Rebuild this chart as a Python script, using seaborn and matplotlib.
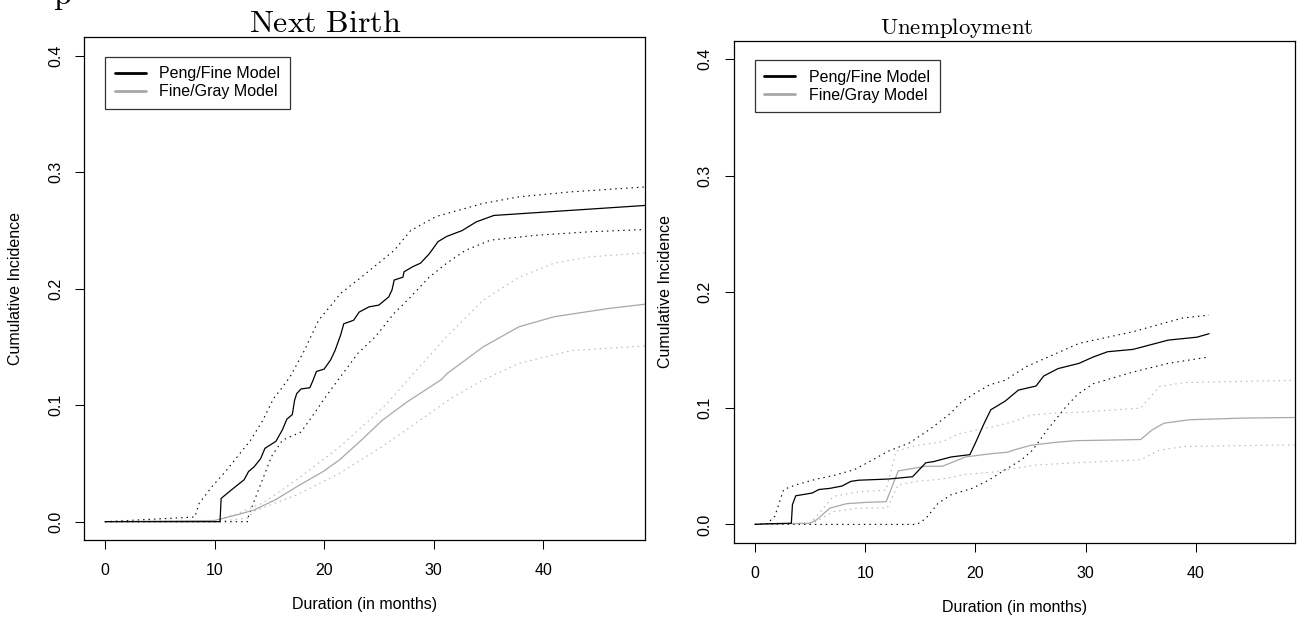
import matplotlib
matplotlib.use("Agg")
import matplotlib.pyplot as plt
import seaborn as sns

# Next Birth: Peng/Fine estimate with pointwise bands
nb_x_pf = [0, 10.5, 10.6, 11.5, 12.7, 13.1, 13.6, 14.2, 14.6, 15.6, 16.2, 16.6, 17.1, 17.3, 17.5, 17.9, 18.7,
           19.0, 19.3, 20.0, 20.6, 21.0, 21.5, 21.8, 22.7, 23.2, 24.1, 25.0, 25.9, 26.2, 26.4, 27.2, 27.3, 28.1,
           28.8, 29.6, 30.4, 31.2, 32.6, 33.9, 35.5, 49.5]
nb_y_pf = [0, 0, 0.020, 0.027, 0.036, 0.043, 0.047, 0.054, 0.063, 0.069, 0.079, 0.088, 0.092, 0.104, 0.110, 0.114,
           0.115, 0.1216, 0.129, 0.131, 0.139, 0.147, 0.160, 0.170, 0.173, 0.180, 0.1845, 0.186, 0.193, 0.199,
           0.2075, 0.210, 0.2146, 0.219, 0.222, 0.230, 0.2405, 0.245, 0.250, 0.2575, 0.263, 0.2717]
nb_x_pf_hi = [0, 8.2, 8.6, 9.2, 9.75, 10.9, 12.1, 13.3, 14.4, 15.4, 16.0, 16.9, 18.2, 19.5, 20.8, 21.5, 23.4,
              26.4, 27.9, 30.2, 34.5, 37.8, 42.6, 49.5]
nb_y_pf_hi = [0, 0.004, 0.016, 0.023, 0.030, 0.042, 0.056, 0.070, 0.087, 0.106, 0.113, 0.1245, 0.147, 0.173,
              0.1877, 0.196, 0.210, 0.233, 0.250, 0.262, 0.2733, 0.279, 0.2833, 0.2876]
nb_x_pf_lo = [0, 13.0, 13.1, 14.0, 14.6, 15.2, 16.2, 17.9, 19.1, 20.2, 21.5, 23.1, 24.7, 26.4, 27.9, 29.6, 31.2,
              32.9, 35.2, 39.4, 44.3, 49.5]
nb_y_pf_lo = [0, 0, 0.005, 0.027, 0.0415, 0.056, 0.070, 0.077, 0.093, 0.108, 0.1245, 0.1447, 0.159, 0.179,
              0.193, 0.210, 0.222, 0.233, 0.2418, 0.246, 0.249, 0.251]

# Next Birth: Fine/Gray estimate with bands
nb_x_fg = [0, 10.0, 12.1, 13.6, 15.6, 17.5, 19.9, 21.4, 23.4, 25.3, 27.6, 30.7, 31.2, 34.5, 37.8, 41.0, 45.9, 49.5]
nb_y_fg = [0, 0.001, 0.006, 0.010, 0.019, 0.030, 0.043, 0.053, 0.070, 0.087, 0.103, 0.122, 0.127, 0.150,
           0.1674, 0.176, 0.183, 0.187]
nb_x_fg_hi = [0, 10.1, 12.1, 14.4, 17.5, 21.4, 24.1, 25.7, 27.9, 31.2, 34.5, 37.8, 41.0, 44.3, 49.5]
nb_y_fg_hi = [0, 0.001, 0.007, 0.016, 0.036, 0.064, 0.087, 0.101, 0.1245, 0.159, 0.190, 0.210, 0.222, 0.2275,
              0.231]
nb_x_fg_lo = [0, 10.0, 13.0, 13.6, 17.5, 21.4, 25.3, 29.2, 31.6, 34.5, 37.8, 42.6, 49.5]
nb_y_fg_lo = [0, 0, 0.003, 0.009, 0.023, 0.0415, 0.0645, 0.090, 0.106, 0.1216, 0.136, 0.147, 0.151]

# Unemployment: Peng/Fine
un_x_pf = [0, 1.0, 3.3, 3.4, 3.7, 5.2, 5.8, 6.8, 7.9, 8.7, 9.4, 12.1, 14.3, 14.9, 15.5, 16.2, 17.8, 19.5, 20.0,
           20.8, 21.4, 22.7, 23.9, 25.5, 26.2, 27.5, 29.4, 30.7, 32.0, 34.3, 37.5, 40.1, 41.2]
un_y_pf = [0, 0.0005, 0.001, 0.017, 0.0246, 0.027, 0.030, 0.031, 0.033, 0.037, 0.038, 0.039, 0.041, 0.047,
           0.053, 0.054, 0.058, 0.060, 0.070, 0.087, 0.0986, 0.106, 0.1155, 0.119, 0.1276, 0.134, 0.1385, 0.144,
           0.1485, 0.1505, 0.1585, 0.161, 0.164]
un_x_pf_hi = [0, 1.1, 1.8, 2.6, 3.7, 5.6, 7.1, 9.0, 10.2, 12.1, 14.0, 15.9, 17.8, 18.7, 20.0, 21.3, 22.7, 24.6,
              29.4, 34.3, 38.8, 41.2]
un_y_pf_hi = [0, 0.0006, 0.007, 0.030, 0.034, 0.039, 0.042, 0.047, 0.053, 0.063, 0.070, 0.082, 0.096, 0.105,
              0.113, 0.120, 0.124, 0.1356, 0.1557, 0.1657, 0.1775, 0.180]
un_x_pf_lo = [0, 14.7, 15.5, 16.6, 17.8, 19.7, 21.2, 22.7, 24.2, 25.2, 26.5, 28.2, 29.3, 30.7, 34.3, 37.5, 41.2]
un_y_pf_lo = [0, 0, 0.005, 0.018, 0.0255, 0.031, 0.038, 0.047, 0.0556, 0.064, 0.081, 0.101, 0.112, 0.121, 0.131,
              0.1385, 0.144]

# Unemployment: Fine/Gray
un_x_fg = [0, 5.0, 5.6, 6.8, 8.3, 10.2, 11.9, 13.0, 15.5, 17.0, 17.8, 19.1, 21.6, 22.9, 23.5, 25.0, 27.2, 29.1,
           35.0, 36.0, 37.1, 39.4, 44.3, 49.5]
un_y_fg = [0, 0.001, 0.004, 0.014, 0.0178, 0.019, 0.0195, 0.046, 0.050, 0.050, 0.053, 0.058, 0.061, 0.062,
           0.064, 0.068, 0.0705, 0.072, 0.073, 0.081, 0.087, 0.090, 0.0914, 0.092]
un_x_fg_hi = [0, 5.0, 5.6, 7.1, 9.4, 11.9, 12.8, 14.7, 17.0, 18.5, 21.6, 23.5, 25.0, 27.2, 29.1, 35.0, 36.7,
              39.0, 49.5]
un_y_fg_hi = [0, 0.001, 0.007, 0.024, 0.028, 0.0295, 0.063, 0.068, 0.071, 0.078, 0.084, 0.0885, 0.094, 0.0957,
              0.0963, 0.100, 0.1186, 0.122, 0.124]
un_x_fg_lo = [0, 5.0, 5.6, 7.1, 9.4, 12.0, 13.0, 14.7, 17.0, 19.1, 21.6, 23.5, 25.4, 29.1, 35.0, 36.7, 39.0, 49.5]
un_y_fg_lo = [0, 0.001, 0.0026, 0.011, 0.014, 0.014, 0.034, 0.037, 0.039, 0.043, 0.045, 0.048, 0.051, 0.053,
              0.0556, 0.064, 0.067, 0.0685]

x_ticks = [0, 10, 20, 30, 40]
y_ticks = [0.0, 0.1, 0.2, 0.3, 0.4]
y_ticklabels = ["0.0", "0.1", "0.2", "0.3", "0.4"]
legend_labels = ["Peng/Fine Model", "Fine/Gray Model"]

sns.set_style("ticks")
plt.rcParams["font.family"] = ["Liberation Sans", "DejaVu Sans"]
plt.rcParams["mathtext.fontset"] = "cm"
plt.rcParams["text.color"] = "black"
plt.rcParams["axes.labelcolor"] = "black"
plt.rcParams["xtick.color"] = "black"
plt.rcParams["ytick.color"] = "black"

BLACK = "black"
GRAY = "#a8a8a8"
GRAY_DOT = "#b4b4b4"
DOT = (0, (1.3, 3.6))
FS = 11.5

fig = plt.figure(figsize=(13.03, 6.19), dpi=100)
W, H = 1303, 619


def make_ax(left, top, right, bottom):
    return fig.add_axes([left / W, 1 - bottom / H, (right - left) / W, (bottom - top) / H])


ax1 = make_ax(84, 37.3, 645, 540.3)
ax2 = make_ax(733.7, 40.7, 1295, 543)

panels = [
    (ax1, (nb_x_pf, nb_y_pf), (nb_x_pf_hi, nb_y_pf_hi), (nb_x_pf_lo, nb_y_pf_lo),
     (nb_x_fg, nb_y_fg), (nb_x_fg_hi, nb_y_fg_hi), (nb_x_fg_lo, nb_y_fg_lo), (-1.92, 49.3)),
    (ax2, (un_x_pf, un_y_pf), (un_x_pf_hi, un_y_pf_hi), (un_x_pf_lo, un_y_pf_lo),
     (un_x_fg, un_y_fg), (un_x_fg_hi, un_y_fg_hi), (un_x_fg_lo, un_y_fg_lo), (-1.93, 49.0)),
]

for ax, pf, pf_hi, pf_lo, fg, fg_hi, fg_lo, xl in panels:
    # bands first, estimates on top
    sns.lineplot(x=fg_hi[0], y=fg_hi[1], ax=ax, color=GRAY_DOT, lw=0.8, linestyle=DOT, estimator=None)
    sns.lineplot(x=fg_lo[0], y=fg_lo[1], ax=ax, color=GRAY_DOT, lw=0.8, linestyle=DOT, estimator=None)
    sns.lineplot(x=pf_hi[0], y=pf_hi[1], ax=ax, color=BLACK, lw=0.8, linestyle=DOT, estimator=None)
    sns.lineplot(x=pf_lo[0], y=pf_lo[1], ax=ax, color=BLACK, lw=0.8, linestyle=DOT, estimator=None)
    sns.lineplot(x=fg[0], y=fg[1], ax=ax, color=GRAY, lw=0.9, estimator=None, label=legend_labels[1])
    sns.lineplot(x=pf[0], y=pf[1], ax=ax, color=BLACK, lw=0.9, estimator=None, label=legend_labels[0])

    ax.set_xlim(*xl)
    ax.set_ylim(-0.016, 0.416)
    ax.set_xticks(x_ticks)
    ax.set_xticklabels([str(t) for t in x_ticks], fontsize=FS)
    ax.set_yticks(y_ticks)
    ax.set_yticklabels(y_ticklabels, fontsize=FS, rotation=90, va="center")
    ax.tick_params(direction="out", length=6.5, width=0.75, color="black", labelcolor="black", pad=8.5)
    ax.tick_params(axis="x", pad=10)
    for s in ax.spines.values():
        s.set_visible(True)
        s.set_color("black")
        s.set_linewidth(0.9)

    ax.set_xlabel("Duration (in months)", fontsize=FS, color="black")
    ax.set_ylabel("Cumulative Incidence", fontsize=FS, color="black")
    ax.xaxis.set_label_coords(0.5, -0.113)
    ax.yaxis.set_label_coords(-0.109, 0.5)

    handles, labels = ax.get_legend_handles_labels()
    order = [labels.index(l) for l in legend_labels]
    leg = ax.legend([handles[i] for i in order], [labels[i] for i in order],
                    loc="upper left", bbox_to_anchor=(0.0374, 0.9614), borderaxespad=0,
                    fontsize=FS, frameon=True, fancybox=False, edgecolor="black",
                    handlelength=1.95, handletextpad=0.85, borderpad=0.6, labelspacing=0.2)
    leg.get_frame().set_linewidth(0.9)
    for t in leg.get_texts():
        t.set_color("black")
    for h in leg.legend_handles:
        h.set_linewidth(2.0)

fig.text(325.5 / W, 1 - 32.3 / H, r"$\mathrm{Next\ Birth}$", fontsize=23, ha="center", va="baseline")
fig.text(957 / W, 1 - 33.5 / H, r"$\mathrm{Unemployment}$", fontsize=16.5, ha="center", va="baseline")
fig.text(53 / W, 1 - 4 / H, r"$\mathrm{p}$", fontsize=23, ha="left", va="baseline")

fig.savefig("out.png", dpi=100)
